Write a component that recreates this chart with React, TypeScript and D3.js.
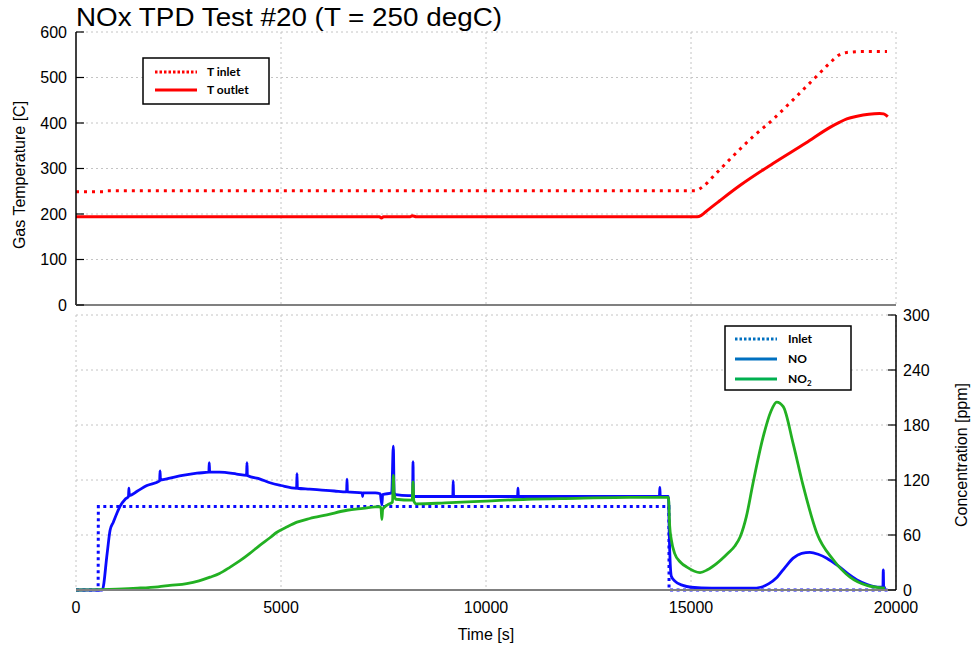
import React from 'react';
import * as d3 from 'd3';

// ---- Data ----
const xTicks = [0, 5000, 10000, 15000, 20000];
const tempTicks = [0, 100, 200, 300, 400, 500, 600];
const concTicks = [0, 60, 120, 180, 240, 300];

const tInletTime = [0, 700, 760, 15100, 15300, 15600, 16000, 16500, 17000, 17500, 18000, 18400, 18600, 18800, 19200, 19780];
const tInletValue = [249, 249, 251, 251, 261, 288, 325, 369, 408, 452, 497, 533, 549, 555, 557, 557];

const tOutletTime = [0, 7400, 7450, 7500, 8150, 8200, 8300, 15150, 15250, 15400, 15700, 16200, 17000, 17800, 18400, 18630, 18800, 19050, 19600, 19700, 19800];
const tOutletValue = [194, 194, 191, 194, 194, 196, 194, 194, 197, 208, 229, 263, 311, 356, 391, 402, 409, 415, 421, 420, 414];

const inletTime = [0, 540, 545, 14460, 14465, 19800];
const inletValue = [0, 0, 91, 91, 0, 0];

const noTime = [0, 640, 760, 830, 910, 1000, 1070, 1200, 1280, 1290, 1300, 1500, 1730, 2040, 2050, 2060, 2290, 2600, 2950, 3240, 3250, 3260, 3500, 3920, 4160, 4170, 4180, 4490, 4730, 5000, 5380, 5390, 5400, 5700, 6000, 6300, 6600, 6610, 6620, 6980, 6990, 7000, 7300, 7420, 7460, 7480, 7700, 7740, 7760, 7800, 8100, 8210, 8220, 8230, 8600, 9190, 9200, 9210, 10000, 10770, 10780, 10790, 12000, 13000, 14230, 14240, 14250, 14450, 14470, 14520, 14600, 14800, 15000, 15500, 16000, 16500, 16700, 16900, 17100, 17300, 17500, 17700, 17900, 18100, 18300, 18500, 18630, 18850, 19050, 19300, 19600, 19680, 19690, 19700, 19750];
const noValue = [0, 0, 40, 65, 74, 84, 91, 99, 102, 111, 103, 108, 114, 119, 130, 120, 122, 125, 127.5, 128.5, 139, 128.5, 128.5, 126.5, 125, 139, 125, 121, 117, 114, 111, 127, 111, 110, 109, 108, 107, 121, 107, 106, 102, 106, 106, 105, 93, 104, 106, 157, 106, 104, 103, 103, 140, 102, 102, 102, 119, 102, 102, 102, 111, 102, 102, 102, 102, 112, 102, 102, 60, 15, 10, 5, 3, 2, 2, 2, 3, 7, 14, 25, 35, 40, 41, 39, 35, 29, 25, 17, 11, 6, 3, 3, 22, 3, 2];

const no2Time = [0, 1000, 1500, 2000, 2290, 2700, 3000, 3270, 3500, 3760, 4000, 4240, 4490, 4730, 4900, 5150, 5390, 5700, 6120, 6610, 7000, 7410, 7440, 7460, 7480, 7600, 7720, 7740, 7760, 7800, 8200, 8220, 8240, 8300, 9000, 10000, 11000, 12200, 13500, 14450, 14480, 14520, 14600, 14750, 14900, 15220, 15400, 15630, 15900, 16070, 16200, 16350, 16510, 16760, 16950, 17090, 17250, 17490, 17740, 18070, 18470, 18880, 19290, 19730];
const no2Value = [0, 1, 2, 3.5, 5, 7, 10, 14, 18, 25, 32, 40, 49, 57, 63, 69, 74, 78, 82, 87, 89, 91, 89, 77, 88, 93, 96, 125, 105, 99, 98, 118, 97, 94, 95, 97, 99, 100, 101, 101, 70, 55, 40, 30, 25, 19, 22, 29, 40, 48, 58, 80, 116, 167, 195, 205, 200, 160, 113, 62, 33, 14, 5, 2];

const legendTop = ['T inlet', 'T outlet'];
const legendBottom = ['Inlet', 'NO', 'NO'];

const zip = (t: number[], v: number[]) => t.map((d, i) => [d, v[i]] as [number, number]);

export default function App() {
  const W = 972, H = 650;
  const left = 76, right = 896;
  const x = d3.scaleLinear().domain([0, 20000]).range([left, right]);
  const yT = d3.scaleLinear().domain([0, 600]).range([305, 32]);
  const yC = d3.scaleLinear().domain([0, 300]).range([590, 315]);

  const lineT = d3.line<[number, number]>().x(d => x(d[0])).y(d => yT(d[1])).curve(d3.curveMonotoneX);
  const lineC = d3.line<[number, number]>().x(d => x(d[0])).y(d => yC(d[1])).curve(d3.curveMonotoneX);
  const lineCLin = d3.line<[number, number]>().x(d => x(d[0])).y(d => yC(d[1]));

  const font = "'Liberation Sans', Arial, sans-serif";
  const legFont = "Lato, 'Open Sans', sans-serif";
  const gridColor = '#c4c4c4';
  const blue = '#0a0aff';
  const green = '#22b022';
  const red = '#ff0000';

  return (
    <svg width={W} height={H} style={{ position: 'absolute', left: 0, top: 0, background: '#fff' }} fontFamily={font}>
      <rect x={0} y={0} width={W} height={H} fill="#fff" />
      {/* grids top */}
      {tempTicks.filter(t => t > 0).map(t => (
        <line key={'gt' + t} x1={left} x2={right} y1={yT(t)} y2={yT(t)} stroke={gridColor} strokeDasharray="2,3" />
      ))}
      {xTicks.filter(t => t > 0).map(t => (
        <line key={'gvt' + t} x1={x(t)} x2={x(t)} y1={yT(600)} y2={yT(0)} stroke={gridColor} strokeDasharray="2,3" />
      ))}
      {/* grids bottom */}
      {concTicks.filter(t => t > 0).map(t => (
        <line key={'gc' + t} x1={left} x2={right} y1={yC(t)} y2={yC(t)} stroke={gridColor} strokeDasharray="2,3" />
      ))}
      {xTicks.map(t => (
        <line key={'gvc' + t} x1={x(t)} x2={x(t)} y1={yC(300)} y2={yC(0)} stroke={gridColor} strokeDasharray="2,3" />
      ))}

      {/* top data */}
      <path d={lineT(zip(tInletTime, tInletValue)) || ''} fill="none" stroke={red} strokeWidth={3} strokeDasharray="3,5" />
      <path d={lineT(zip(tOutletTime, tOutletValue)) || ''} fill="none" stroke={red} strokeWidth={3} />

      {/* bottom data */}
      <path d={lineCLin(zip(inletTime, inletValue)) || ''} fill="none" stroke={blue} strokeWidth={3} strokeDasharray="3,3.5" />
      <path d={lineC(zip(noTime, noValue)) || ''} fill="none" stroke={blue} strokeWidth={2.8} />
      <path d={lineC(zip(no2Time, no2Value)) || ''} fill="none" stroke={green} strokeWidth={2.8} />

      {/* top axes */}
      <line x1={left} x2={left} y1={yT(600)} y2={yT(0)} stroke="#000" strokeWidth={1.5} />
      <line x1={left} x2={right} y1={yT(0)} y2={yT(0)} stroke="#808080" strokeWidth={2} />
      {tempTicks.map(t => (
        <g key={'tt' + t}>
          <line x1={left} x2={left + 8} y1={yT(t)} y2={yT(t)} stroke="#000" strokeWidth={1.2} />
          <text x={67} y={yT(t)} dy="0.35em" textAnchor="end" fontSize={16} fill="#000">{t}</text>
        </g>
      ))}
      <text transform={`translate(25,175) rotate(-90)`} textAnchor="middle" fontSize={16} fill="#000">Gas Temperature [C]</text>

      {/* bottom axes */}
      <line x1={left} x2={right} y1={yC(0)} y2={yC(0)} stroke="#808080" strokeWidth={2} />
      <line x1={right} x2={right} y1={yC(300)} y2={yC(0)} stroke="#000" strokeWidth={1.5} />
      {concTicks.map(t => (
        <g key={'ct' + t}>
          <line x1={right - 8} x2={right} y1={yC(t)} y2={yC(t)} stroke="#000" strokeWidth={1.2} />
          <text x={903} y={yC(t)} dy="0.35em" textAnchor="start" fontSize={16} fill="#000">{t}</text>
        </g>
      ))}
      {xTicks.map(t => (
        <text key={'xt' + t} x={x(t)} y={613} textAnchor="middle" fontSize={16} fill="#000">{t}</text>
      ))}
      <text x={486} y={640} textAnchor="middle" fontSize={16} fill="#000">Time [s]</text>
      <text transform={`translate(967,455) rotate(-90)`} textAnchor="middle" fontSize={16} fill="#000">Concentration [ppm]</text>

      {/* title */}
      <text x={76} y={26} fontSize={25} textLength={426} lengthAdjust="spacingAndGlyphs" fill="#000">NOx TPD Test #20 (T = 250 degC)</text>

      {/* legend top */}
      <g>
        <rect x={143} y={58} width={126} height={46} fill="#fff" stroke="#000" strokeWidth={1.5} />
        <line x1={155} x2={197} y1={72} y2={72} stroke={red} strokeWidth={3} strokeDasharray="2.5,2" />
        <line x1={155} x2={197} y1={90} y2={90} stroke={red} strokeWidth={3} />
        <text x={207} y={76} fontSize={12} fontWeight="bold" fontFamily={legFont}>{legendTop[0]}</text>
        <text x={207} y={94} fontSize={12} fontWeight="bold" fontFamily={legFont}>{legendTop[1]}</text>
      </g>
      {/* legend bottom */}
      <g>
        <rect x={725} y={326} width={126} height={64} fill="#fff" stroke="#000" strokeWidth={1.5} />
        <line x1={735} x2={777} y1={339} y2={339} stroke="#0070c0" strokeWidth={3} strokeDasharray="2.5,2" />
        <line x1={735} x2={777} y1={359} y2={359} stroke="#0070c0" strokeWidth={3} />
        <line x1={735} x2={777} y1={379} y2={379} stroke="#00b050" strokeWidth={3} />
        <text x={788} y={343} fontSize={12} fontWeight="bold" fontFamily={legFont}>{legendBottom[0]}</text>
        <text x={788} y={363} fontSize={12} fontWeight="bold" fontFamily={legFont}>{legendBottom[1]}</text>
        <text x={788} y={383} fontSize={12} fontWeight="bold" fontFamily={legFont}>{legendBottom[2]}<tspan fontSize={8} dy={3}>2</tspan></text>
      </g>
    </svg>
  );
}
